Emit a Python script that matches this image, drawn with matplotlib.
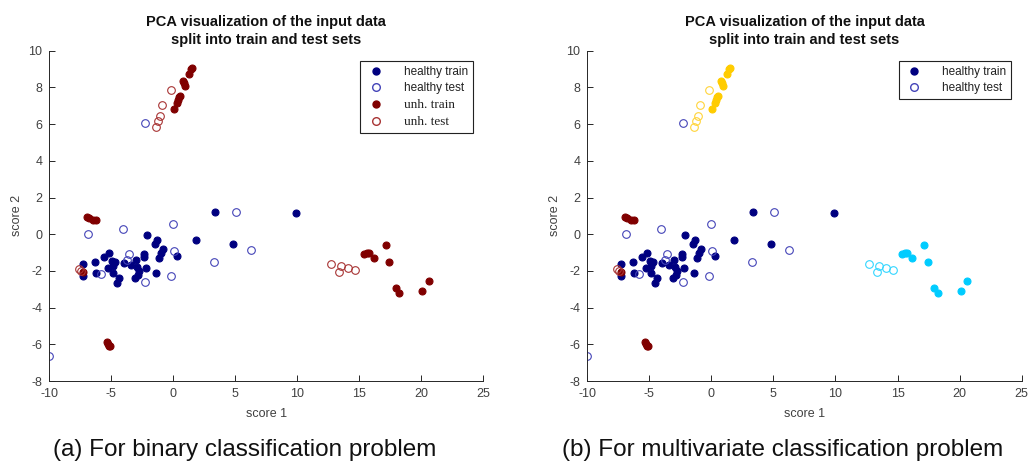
#!/usr/bin/env python3
"""PCA scatter of train/test split, binary vs multiclass colouring."""

import matplotlib.pyplot as plt
from matplotlib.lines import Line2D

plt.rcParams["font.family"] = ["Liberation Sans", "DejaVu Sans"]
plt.rcParams["axes.unicode_minus"] = False

# healthy samples
healthy_train_x = [-7.31, -7.26, -6.34, -6.23, -5.59, -5.19, -5.29, -4.97, -4.70, -4.84,
                   -4.89, -4.35, -4.52, -3.95, -3.44, -3.01, -2.95, -2.74, -3.06, -2.85,
                   -2.36, -2.36, -2.20, -2.15, -1.40, -1.50, -1.29, -1.13, -0.97, -0.81,
                   0.32, 1.83, 4.84, 3.33, 9.92]
healthy_train_y = [-1.63, -2.27, -1.49, -2.10, -1.23, -1.05, -1.85, -1.45, -1.49, -1.72,
                   -2.14, -2.39, -2.68, -1.59, -1.67, -1.41, -1.81, -2.03, -2.39, -2.25,
                   -1.09, -1.22, -1.85, -0.05, -2.14, -0.51, -0.33, -1.27, -1.05, -0.78,
                   -1.18, -0.33, -0.51, 1.23, 1.16]
healthy_test_x = [-6.88, -4.03, 0.00, -3.55, -3.71, -5.81, -2.31, -0.19, 0.03, 3.31,
                  6.24, 5.08, -2.28, -10.0]
healthy_test_y = [0.00, 0.27, 0.58, -1.09, -1.41, -2.17, -2.63, -2.28, -0.94, -1.50,
                  -0.87, 1.20, 6.07, -6.65]

# unhealthy class A (left clusters)
a_train_x = [-6.98, -6.77, -6.45, -6.23, -7.30, -5.38, -5.30, -5.20, -5.10]
a_train_y = [0.94, 0.91, 0.80, 0.76, -2.08, -5.85, -5.98, -6.07, -6.07]
a_test_x = [-7.63, -7.42]
a_test_y = [-1.90, -1.99]

# unhealthy class B (top cluster)
b_train_x = [0.03, 0.27, 0.35, 0.46, 0.56, 0.78, 0.89, 0.97, 1.24, 1.40, 1.48]
b_train_y = [6.83, 7.14, 7.32, 7.50, 7.55, 8.35, 8.22, 8.08, 8.73, 9.00, 9.08]
b_test_x = [-1.40, -1.21, -1.05, -0.89, -0.19]
b_test_y = [5.82, 6.18, 6.45, 7.05, 7.86]

# unhealthy class C (right cluster)
c_train_x = [15.35, 15.60, 15.80, 16.16, 17.12, 17.42, 17.93, 18.23, 20.08, 20.62]
c_train_y = [-1.09, -1.00, -1.00, -1.32, -0.58, -1.49, -2.92, -3.22, -3.10, -2.55]
c_test_x = [12.69, 13.36, 13.52, 14.11, 14.62]
c_test_y = [-1.61, -2.07, -1.76, -1.85, -1.96]

titles = "PCA visualization of the input data\nsplit into train and test sets"
captions = ["(a) For binary classification problem",
            "(b) For multivariate classification problem"]

NAVY, BLUE_O = "#000080", "#4444b8"
RED, RED_O = "#800000", "#a83434"
GOLD, GOLD_O = "#ffcc00", "#ffd43a"
CYAN, CYAN_O = "#00ccff", "#33d6ff"
AX_COL = "#262626"

fig = plt.figure(figsize=(10.33, 4.73), dpi=100)
axes = [fig.add_axes([0.0477, 0.1945, 0.4202, 0.6983]),
        fig.add_axes([0.5685, 0.1945, 0.4205, 0.6983])]


def filled(ax, x, y, c):
    ax.plot(x, y, "o", ms=5, mfc=c, mec=c, mew=0.8, ls="none")


def hollow(ax, x, y, c):
    ax.plot(x, y, "o", ms=5.5, mfc="none", mec=c, mew=0.8, ls="none")


for i, ax in enumerate(axes):
    filled(ax, healthy_train_x, healthy_train_y, NAVY)
    hollow(ax, healthy_test_x, healthy_test_y, BLUE_O)
    if i == 0:
        filled(ax, a_train_x + b_train_x + c_train_x, a_train_y + b_train_y + c_train_y, RED)
        hollow(ax, a_test_x + b_test_x + c_test_x, a_test_y + b_test_y + c_test_y, RED_O)
    else:
        filled(ax, a_train_x, a_train_y, RED)
        hollow(ax, a_test_x, a_test_y, RED_O)
        filled(ax, b_train_x, b_train_y, GOLD)
        hollow(ax, b_test_x, b_test_y, GOLD_O)
        filled(ax, c_train_x, c_train_y, CYAN)
        hollow(ax, c_test_x, c_test_y, CYAN_O)

    ax.set_xlim(-10, 25)
    ax.set_ylim(-8, 10)
    ax.set_xticks(range(-10, 26, 5))
    ax.set_yticks(range(-8, 11, 2))
    for s in ("top", "right"):
        ax.spines[s].set_visible(False)
    for s in ("left", "bottom"):
        ax.spines[s].set_color(AX_COL)
        ax.spines[s].set_linewidth(0.7)
    ax.tick_params(direction="in", length=4, width=0.7, colors=AX_COL,
                   labelsize=9, labelcolor="#404040", pad=5)
    ax.set_xlabel("score 1", fontsize=9, color="#404040", labelpad=6)
    ax.set_ylabel("score 2", fontsize=9, color="#404040", labelpad=4)
    ax.set_title(titles, fontsize=10.5, fontweight="bold", color="#111111", pad=5,
                 linespacing=1.3)
    fig.text(ax.get_position().x0 + ax.get_position().width * 0.45, 0.048,
             captions[i], fontsize=17.5, ha="center", va="center", color="#111111")

handles = [Line2D([], [], ls="none", marker="o", ms=5, mfc=NAVY, mec=NAVY),
           Line2D([], [], ls="none", marker="o", ms=5.5, mfc="none", mec=BLUE_O)]
labels = ["healthy train", "healthy test"]
leg_specs = [(handles + [Line2D([], [], ls="none", marker="o", ms=5, mfc=RED, mec=RED),
                         Line2D([], [], ls="none", marker="o", ms=5.5, mfc="none", mec=RED_O)],
              labels + ["unh. train", "unh. test"]),
             (handles, labels)]

for i, (ax, (h, l)) in enumerate(zip(axes, leg_specs)):
    leg = ax.legend(h, l, loc="upper right", bbox_to_anchor=(0.976, 0.969),
                    fontsize=8.5, frameon=True, fancybox=False, framealpha=1,
                    edgecolor="#222222", borderpad=0.4, labelspacing=0.4,
                    handletextpad=1.5, handlelength=1.8, borderaxespad=0)
    leg.get_frame().set_linewidth(0.8)
    for j, t in enumerate(leg.get_texts()):
        t.set_color("#222222")
        if i == 0 and j >= 2:
            t.set_fontfamily(["Liberation Serif", "DejaVu Serif"])
            t.set_fontsize(9.5)

fig.savefig("out.png", dpi=100)
